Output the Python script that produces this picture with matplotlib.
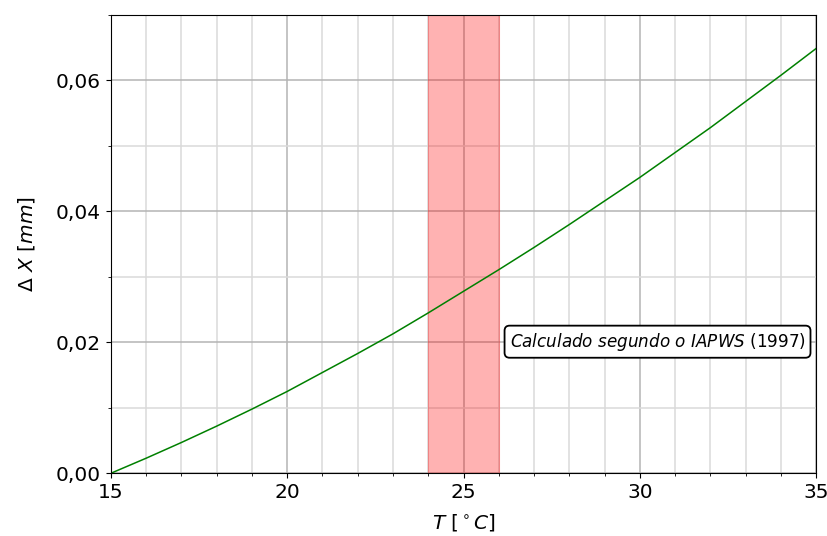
import numpy as np
import matplotlib
matplotlib.use("Agg")
import matplotlib.pyplot as plt
from matplotlib.ticker import MultipleLocator, FuncFormatter

# temperatura [C] e dilatacao [mm]
temp = [15, 16, 17, 18, 19, 20, 21, 22, 23, 24, 25,
        26, 27, 28, 29, 30, 31, 32, 33, 34, 35]
dx = [0.0000, 0.0023, 0.0047, 0.0072, 0.0098, 0.0125, 0.0154, 0.0183,
      0.0213, 0.0245, 0.0278, 0.0311, 0.0345, 0.0380, 0.0416, 0.0452,
      0.0490, 0.0528, 0.0568, 0.0608, 0.0649]
faixa = [24, 26]

plt.rcParams['font.size'] = 14.5

fig, ax = plt.subplots(figsize=(8.27, 5.36), dpi=100)
ax.plot(temp, dx, color='green', lw=1.1)
ax.axvspan(faixa[0], faixa[1], facecolor='red', edgecolor='red', alpha=0.3, lw=0.8)

ax.set_xlim(15, 35)
ax.set_ylim(0, 0.07)
ax.xaxis.set_major_locator(MultipleLocator(5))
ax.xaxis.set_minor_locator(MultipleLocator(1))
ax.yaxis.set_major_locator(MultipleLocator(0.02))
ax.yaxis.set_minor_locator(MultipleLocator(0.01))
ax.yaxis.set_major_formatter(FuncFormatter(lambda v, p: f"{v:.2f}".replace('.', ',')))
ax.grid(which='major', color='#b4b4b4', lw=1.1)
ax.grid(which='minor', color='#dadada', lw=1.1)
ax.set_axisbelow(True)

ax.set_xlabel(r"$T\ [^\circ C]$", labelpad=7)
ax.set_ylabel(r"$\Delta\ X\ [mm]$", labelpad=14)

ax.text(30.5, 0.0201, r"$Calculado\ segundo\ o\ IAPWS$ (1997)", fontsize=12.1,
        ha='center', va='center',
        bbox=dict(boxstyle='round', facecolor='white', edgecolor='black', lw=1.3))

fig.subplots_adjust(left=0.134, right=0.987, top=0.972, bottom=0.117)
fig.savefig("out.png", dpi=100)
